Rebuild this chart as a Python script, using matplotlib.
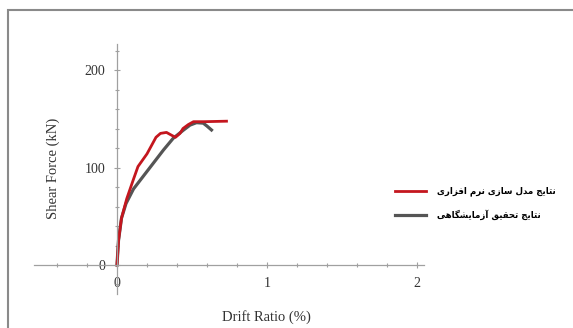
import numpy as np
import matplotlib
matplotlib.use('Agg')
import matplotlib.pyplot as plt
from matplotlib.patches import Rectangle
from matplotlib.ticker import MultipleLocator

# data (drift ratio %, shear force kN)
model_drift = [0, 0.01, 0.03, 0.065, 0.11, 0.14, 0.2, 0.26, 0.29, 0.33, 0.365, 0.39, 0.42, 0.44, 0.475, 0.51, 0.58, 0.73]
model_force = [0, 25, 48, 68, 88, 101, 114, 131, 135, 136, 133, 131, 135, 140, 144, 147, 147, 147.5]
test_drift = [0, 0.01, 0.03, 0.06, 0.11, 0.175, 0.24, 0.31, 0.375, 0.44, 0.487, 0.53, 0.575, 0.6, 0.63]
test_force = [0, 25, 48, 63, 78, 91, 104, 118, 130, 138, 143.5, 146, 145.5, 142.5, 138.5]

model_label = 'نتایج مدل سازی نرم افزاری'
test_label = 'نتایج تحقیق آزمایشگاهی'

# simple arabic/persian shaping into presentation forms (matplotlib does no shaping)
forms = {
    'ا': ('\ufe8d', '\ufe8e', None, None),
    'آ': ('\ufe81', '\ufe82', None, None),
    'د': ('\ufea9', '\ufeaa', None, None),
    'ر': ('\ufead', '\ufeae', None, None),
    'ز': ('\ufeaf', '\ufeb0', None, None),
    'ت': ('\ufe95', '\ufe96', '\ufe97', '\ufe98'),
    'ج': ('\ufe9d', '\ufe9e', '\ufe9f', '\ufea0'),
    'ح': ('\ufea1', '\ufea2', '\ufea3', '\ufea4'),
    'س': ('\ufeb1', '\ufeb2', '\ufeb3', '\ufeb4'),
    'ش': ('\ufeb5', '\ufeb6', '\ufeb7', '\ufeb8'),
    'ف': ('\ufed1', '\ufed2', '\ufed3', '\ufed4'),
    'ق': ('\ufed5', '\ufed6', '\ufed7', '\ufed8'),
    'ل': ('\ufedd', '\ufede', '\ufedf', '\ufee0'),
    'م': ('\ufee1', '\ufee2', '\ufee3', '\ufee4'),
    'ن': ('\ufee5', '\ufee6', '\ufee7', '\ufee8'),
    'ه': ('\ufee9', '\ufeea', '\ufeeb', '\ufeec'),
    'ی': ('\ufbfc', '\ufbfd', '\ufbfe', '\ufbff'),
    'گ': ('\ufb92', '\ufb93', '\ufb94', '\ufb95'),
}

def shape(s):
    out = []
    for i, ch in enumerate(s):
        if ch not in forms:
            out.append(ch)
            continue
        prev = s[i - 1] if i > 0 else ''
        nxt = s[i + 1] if i + 1 < len(s) else ''
        join_prev = prev in forms and forms[prev][2] is not None
        join_next = nxt in forms and forms[ch][2] is not None
        iso, fin, ini, med = forms[ch]
        if join_prev and join_next:
            out.append(med)
        elif join_prev:
            out.append(fin)
        elif join_next:
            out.append(ini)
        else:
            out.append(iso)
    return ''.join(out)[::-1]

plt.rcParams['font.family'] = ['Liberation Serif', 'DejaVu Sans']

fig = plt.figure(figsize=(5.73, 3.28), dpi=100)
ax = fig.add_axes([0.0602, 0.1029, 0.6806, 0.7639])

ax.plot(test_drift, test_force, color='#555555', lw=2.3, label=shape(test_label))
ax.plot(model_drift, model_force, color='#c4161e', lw=2.0, label=shape(model_label))

ax.set_xlim(-0.55, 2.05)
ax.set_ylim(-30, 227)

for side in ['top', 'right']:
    ax.spines[side].set_visible(False)
ax.spines['left'].set_position(('data', 0))
ax.spines['bottom'].set_position(('data', 0))
for side in ['left', 'bottom']:
    ax.spines[side].set_color('#a0a0a0')
    ax.spines[side].set_linewidth(0.9)

ax.xaxis.set_major_locator(MultipleLocator(1))
ax.xaxis.set_minor_locator(MultipleLocator(0.2))
ax.yaxis.set_major_locator(MultipleLocator(100))
ax.yaxis.set_minor_locator(MultipleLocator(20))
ax.tick_params(which='both', direction='inout', color='#a0a0a0', width=0.8)
ax.tick_params(which='major', length=5, labelsize=10, labelcolor='#333333', pad=6)
ax.tick_params(which='minor', length=3)

ax.set_xlabel('Drift Ratio (%)', fontsize=10.5, color='#333333')
ax.set_ylabel('Shear Force (kN)', fontsize=10.5, color='#333333')
ax.xaxis.set_label_coords(0.596, -0.063)
ax.yaxis.set_label_coords(0.065, 0.504)

handles, labels = ax.get_legend_handles_labels()
leg = fig.legend(handles[::-1], labels[::-1], loc='center left', bbox_to_anchor=(0.675, 0.38),
                 frameon=False, handlelength=3.6, handletextpad=1.3, labelspacing=1.5,
                 prop={'family': 'DejaVu Sans', 'weight': 'bold', 'size': 6.2})

fig.patches.append(Rectangle((8 / 573, -0.1), 2, (318 / 328) + 0.1, transform=fig.transFigure,
                             fill=False, edgecolor='#8a8a8a', lw=1.5))

fig.savefig('out.png', dpi=100)
